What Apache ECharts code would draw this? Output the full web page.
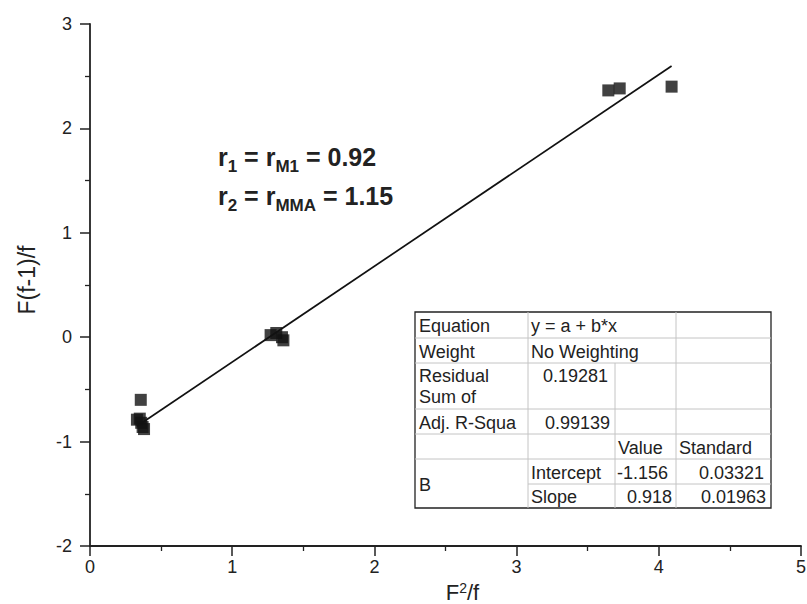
<!DOCTYPE html>
<html><head><meta charset="utf-8">
<script src="https://cdn.jsdelivr.net/npm/echarts@6/dist/echarts.min.js"></script>
<style>html,body{margin:0;padding:0;background:#fff}#c{width:807px;height:604px}</style>
</head><body><div id="c"></div>
<script>
// ---- data ----
const pointsX = [0.357, 0.33, 0.35, 0.36, 0.37, 0.38, 1.27, 1.31, 1.35, 1.36, 3.645, 3.725, 4.09];
const pointsY = [-0.60, -0.79, -0.78, -0.82, -0.86, -0.88, 0.02, 0.04, 0.00, -0.03, 2.364, 2.383, 2.40];
const fitX = [0.33, 4.09];
const fitY = [-0.853, 2.598];
const xTicks = [0, 1, 2, 3, 4, 5];
const yTicks = [-2, -1, 0, 1, 2, 3];
const tableRows = [
  ['Equation', 'y = a + b*x', '', ''],
  ['Weight', 'No Weighting', '', ''],
  ['Residual\nSum of', '0.19281', '', ''],
  ['Adj. R-Squa', '0.99139', '', ''],
  ['', '', 'Value', 'Standard'],
  ['B', 'Intercept', '-1.156', '0.03321'],
  ['', 'Slope', '0.918', '0.01963']
];

// ---- layout ----
const colX = [415, 528, 615, 676, 771];
const rowY = [312, 338, 363, 409, 434, 459, 484, 508];
const TF = 'Arial, "Liberation Sans", sans-serif';
const tfs = 18;
const g = [];
g.push({type:'rect', shape:{x:colX[0], y:rowY[0], width:colX[4]-colX[0], height:rowY[7]-rowY[0]}, style:{fill:'#fff', stroke:'#222', lineWidth:1.3}, z:10});
function hl(y, x1, x2){ g.push({type:'line', shape:{x1:x1, y1:y, x2:x2, y2:y}, style:{stroke:'#c4c4c4', lineWidth:1}, z:11}); }
function vl(x, y1, y2){ g.push({type:'line', shape:{x1:x, y1:y1, x2:x, y2:y2}, style:{stroke:'#c4c4c4', lineWidth:1}, z:11}); }
for (let i = 1; i <= 5; i++) hl(rowY[i], colX[0], colX[4]);
hl(rowY[6], colX[1], colX[4]);
vl(colX[1], rowY[0], rowY[7]);
vl(colX[2], rowY[2], rowY[7]);
vl(colX[3], rowY[0], rowY[7]);
function txt(s, x, y, align, vAlign){ g.push({type:'text', x:x, y:y, z:12, style:{text:s, font:tfs+'px '+TF, fill:'#222', align:align||'left', verticalAlign:vAlign||'middle', lineHeight:21}}); }
function mid(r){ return (rowY[r]+rowY[r+1])/2 + 1; }
txt(tableRows[0][0], colX[0]+4, mid(0));
txt(tableRows[0][1], colX[1]+3, mid(0));
txt(tableRows[1][0], colX[0]+4, mid(1));
txt(tableRows[1][1], colX[1]+3, mid(1));
txt(tableRows[2][0], colX[0]+4, rowY[2]+2, 'left', 'top');
txt(tableRows[2][1], colX[2]-7, rowY[2]+2, 'right', 'top');
txt(tableRows[3][0], colX[0]+4, mid(3));
txt(tableRows[3][1], colX[2]-5, mid(3), 'right');
txt(tableRows[4][2], colX[2]+3, mid(4));
txt(tableRows[4][3], colX[3]+3, mid(4));
txt(tableRows[5][0], colX[0]+4, (rowY[5]+rowY[7])/2+1);
txt(tableRows[5][1], colX[1]+3, mid(5));
txt(tableRows[5][2], colX[2]+2, mid(5));
txt(tableRows[5][3], colX[4]-7, mid(5), 'right');
txt(tableRows[6][1], colX[1]+3, mid(6));
txt(tableRows[6][2], colX[3]-4, mid(6), 'right');
txt(tableRows[6][3], colX[4]-5, mid(6), 'right');

// annotation
const rich = {
  m:{font:'bold 25px '+TF, fill:'#222', color:'#222', lineHeight:27, padding:[0,0,5,0], verticalAlign:'bottom'},
  s:{font:'bold 17px '+TF, fill:'#222', color:'#222', lineHeight:18, verticalAlign:'bottom'}
};
g.push({type:'text', x:218, y:161, z:12, style:{text:'{m|r}{s|1}{m| = r}{s|M1}{m| = 0.92}', rich:rich, verticalAlign:'middle', align:'left'}});
g.push({type:'text', x:218, y:200, z:12, style:{text:'{m|r}{s|2}{m| = r}{s|MMA}{m| = 1.15}', rich:rich, verticalAlign:'middle', align:'left'}});

const chart = echarts.init(document.getElementById('c'), null, {renderer:'svg'});
const axisCommon = {
  axisLine:{show:true, onZero:false, lineStyle:{color:'#222', width:1.8}},
  axisTick:{show:true, inside:false, length:10, lineStyle:{color:'#222', width:1.5}},
  minorTick:{show:true, splitNumber:2, length:5, lineStyle:{color:'#222', width:1.3}},
  splitLine:{show:false}
};
chart.setOption({
  animation:false,
  grid:{left:90, right:6, top:24, bottom:58, containLabel:false, outerBoundsMode:'none'},
  xAxis:Object.assign({}, axisCommon, {
    type:'value', min:xTicks[0], max:xTicks[xTicks.length-1], interval:1,
    name:'{a|F}{b|2}{a|/f}', nameLocation:'middle', nameGap:28,
    nameTextStyle:{color:'#222', fontFamily:TF, padding:[0,0,0,34], rich:{a:{fontSize:22, color:'#222', fontFamily:TF, verticalAlign:'bottom', lineHeight:23}, b:{fontSize:14, color:'#222', fontFamily:TF, verticalAlign:'top', lineHeight:23}}},
    axisLabel:{color:'#222', fontSize:18, fontFamily:TF, margin:12}
  }),
  yAxis:Object.assign({}, axisCommon, {
    type:'value', min:yTicks[0], max:yTicks[yTicks.length-1], interval:1,
    name:'F(f-1)/f', nameLocation:'middle', nameGap:52,
    nameTextStyle:{color:'#222', fontSize:23, fontFamily:TF, padding:[0,0,0,10]},
    axisLabel:{color:'#222', fontSize:18, fontFamily:TF, margin:18}
  }),
  series:[
    {type:'scatter', symbol:'rect', symbolSize:12, itemStyle:{color:'#111'}, data:pointsX.map((x,i)=>[x, pointsY[i]]), z:5},
    {type:'line', symbol:'none', lineStyle:{color:'#111', width:1.7}, data:fitX.map((x,i)=>[x, fitY[i]]), z:4}
  ],
  graphic:g
});
</script></body></html>
